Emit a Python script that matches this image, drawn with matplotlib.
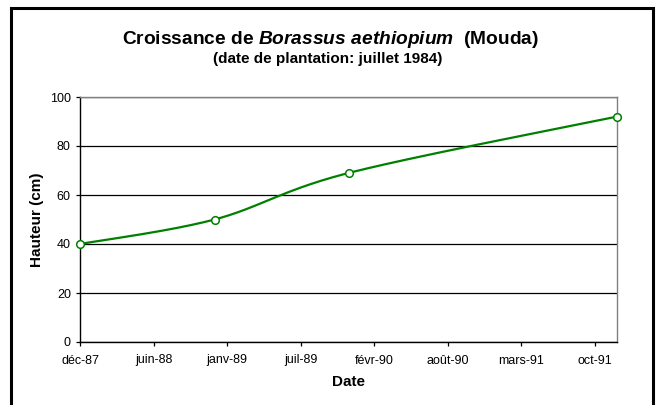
import numpy as np
import matplotlib
matplotlib.use("Agg")
import matplotlib.pyplot as plt
import matplotlib.dates as mdates
import matplotlib.patches as mpatches
from datetime import date, timedelta

plt.rcParams['font.family'] = ['Liberation Sans', 'DejaVu Sans']
plt.rcParams['mathtext.fontset'] = 'custom'
plt.rcParams['mathtext.rm'] = 'Liberation Sans:bold'
plt.rcParams['mathtext.it'] = 'Liberation Sans:italic:bold'
plt.rcParams['mathtext.bf'] = 'Liberation Sans:bold'

# measurements (Mouda)
dates = [date(1987, 12, 1), date(1988, 12, 1), date(1989, 12, 1), date(1991, 12, 1)]
heights = [40, 50, 69, 92]

# axis: Excel date axis, one tick every 200 days
axis_start = date(1987, 12, 1)
axis_end = date(1991, 12, 1)
tick_step_days = 200
tick_labels = ["déc-87", "juin-88", "janv-89", "juil-89", "févr-90", "août-90", "mars-91", "oct-91"]
y_ticks = [0, 20, 40, 60, 80, 100]

green = "#008000"


def excel_smooth(x, y, n=60):
    """Bezier smoothing like Excel's 'smoothed line' (Catmull-Rom, tension 1/6)."""
    px = np.concatenate([[x[0]], x, [x[-1]]])
    py = np.concatenate([[y[0]], y, [y[-1]]])
    xs, ys = [], []
    t = np.linspace(0, 1, n)
    for i in range(1, len(px) - 2):
        p0 = np.array([px[i], py[i]])
        p3 = np.array([px[i + 1], py[i + 1]])
        c1 = p0 + (np.array([px[i + 1], py[i + 1]]) - np.array([px[i - 1], py[i - 1]])) / 6
        c2 = p3 - (np.array([px[i + 2], py[i + 2]]) - np.array([px[i], py[i]])) / 6
        b = ((1 - t)**3)[:, None] * p0 + (3 * (1 - t)**2 * t)[:, None] * c1 \
            + (3 * (1 - t) * t**2)[:, None] * c2 + (t**3)[:, None] * p3
        xs.append(b[:, 0])
        ys.append(b[:, 1])
    return np.concatenate(xs), np.concatenate(ys)


fig = plt.figure(figsize=(6.57, 4.05), dpi=100)
ax = fig.add_axes([80 / 657, 1 - 342 / 405, (617 - 80) / 657, (342 - 97) / 405])

xnum = mdates.date2num(dates)
sx, sy = excel_smooth(np.array(xnum, dtype=float), np.array(heights, dtype=float))
ax.plot(sx, sy, color=green, lw=1.6, zorder=3, clip_on=False)
ax.plot(xnum, heights, 'o', ms=5.5, mfc='white', mec=green, mew=1.1, zorder=4, clip_on=False)

ax.set_xlim(mdates.date2num(axis_start), mdates.date2num(axis_end))
ax.set_ylim(0, 100)
tick_pos = [mdates.date2num(axis_start + timedelta(days=tick_step_days * k)) for k in range(len(tick_labels))]
ax.set_xticks(tick_pos)
ax.set_xticklabels(tick_labels)
ax.set_yticks(y_ticks)

ax.grid(axis='y', color='black', lw=0.9)
ax.set_axisbelow(True)
for s in ['top', 'right']:
    ax.spines[s].set_color('#808080')
    ax.spines[s].set_linewidth(1.0)
for s in ['left', 'bottom']:
    ax.spines[s].set_color('black')
    ax.spines[s].set_linewidth(1.0)
ax.tick_params(direction='out', length=3, width=0.9, labelsize=9)
ax.tick_params(axis='y', pad=3.6)
ax.tick_params(axis='x', pad=6)

ax.set_xlabel("Date", fontsize=11, fontweight='bold', labelpad=6)
ax.set_ylabel("Hauteur (cm)", fontsize=11, fontweight='bold', labelpad=4.5)

fig.text(0.503, 1 - 40 / 405, r"Croissance de $\it{Borassus\ aethiopium}$  (Mouda)",
         ha='center', va='center', fontsize=13.8, fontweight='bold')
fig.text(0.499, 1 - 58.5 / 405, "(date de plantation: juillet 1984)",
         ha='center', va='center', fontsize=11, fontweight='bold')

# chart area border
fig.patches.append(mpatches.Rectangle((11 / 657, -0.05), (653 - 11) / 657, 1.05 - 8 / 405,
                                      transform=fig.transFigure, fill=False,
                                      edgecolor='black', lw=2.2))

fig.savefig("out.png", dpi=100)
